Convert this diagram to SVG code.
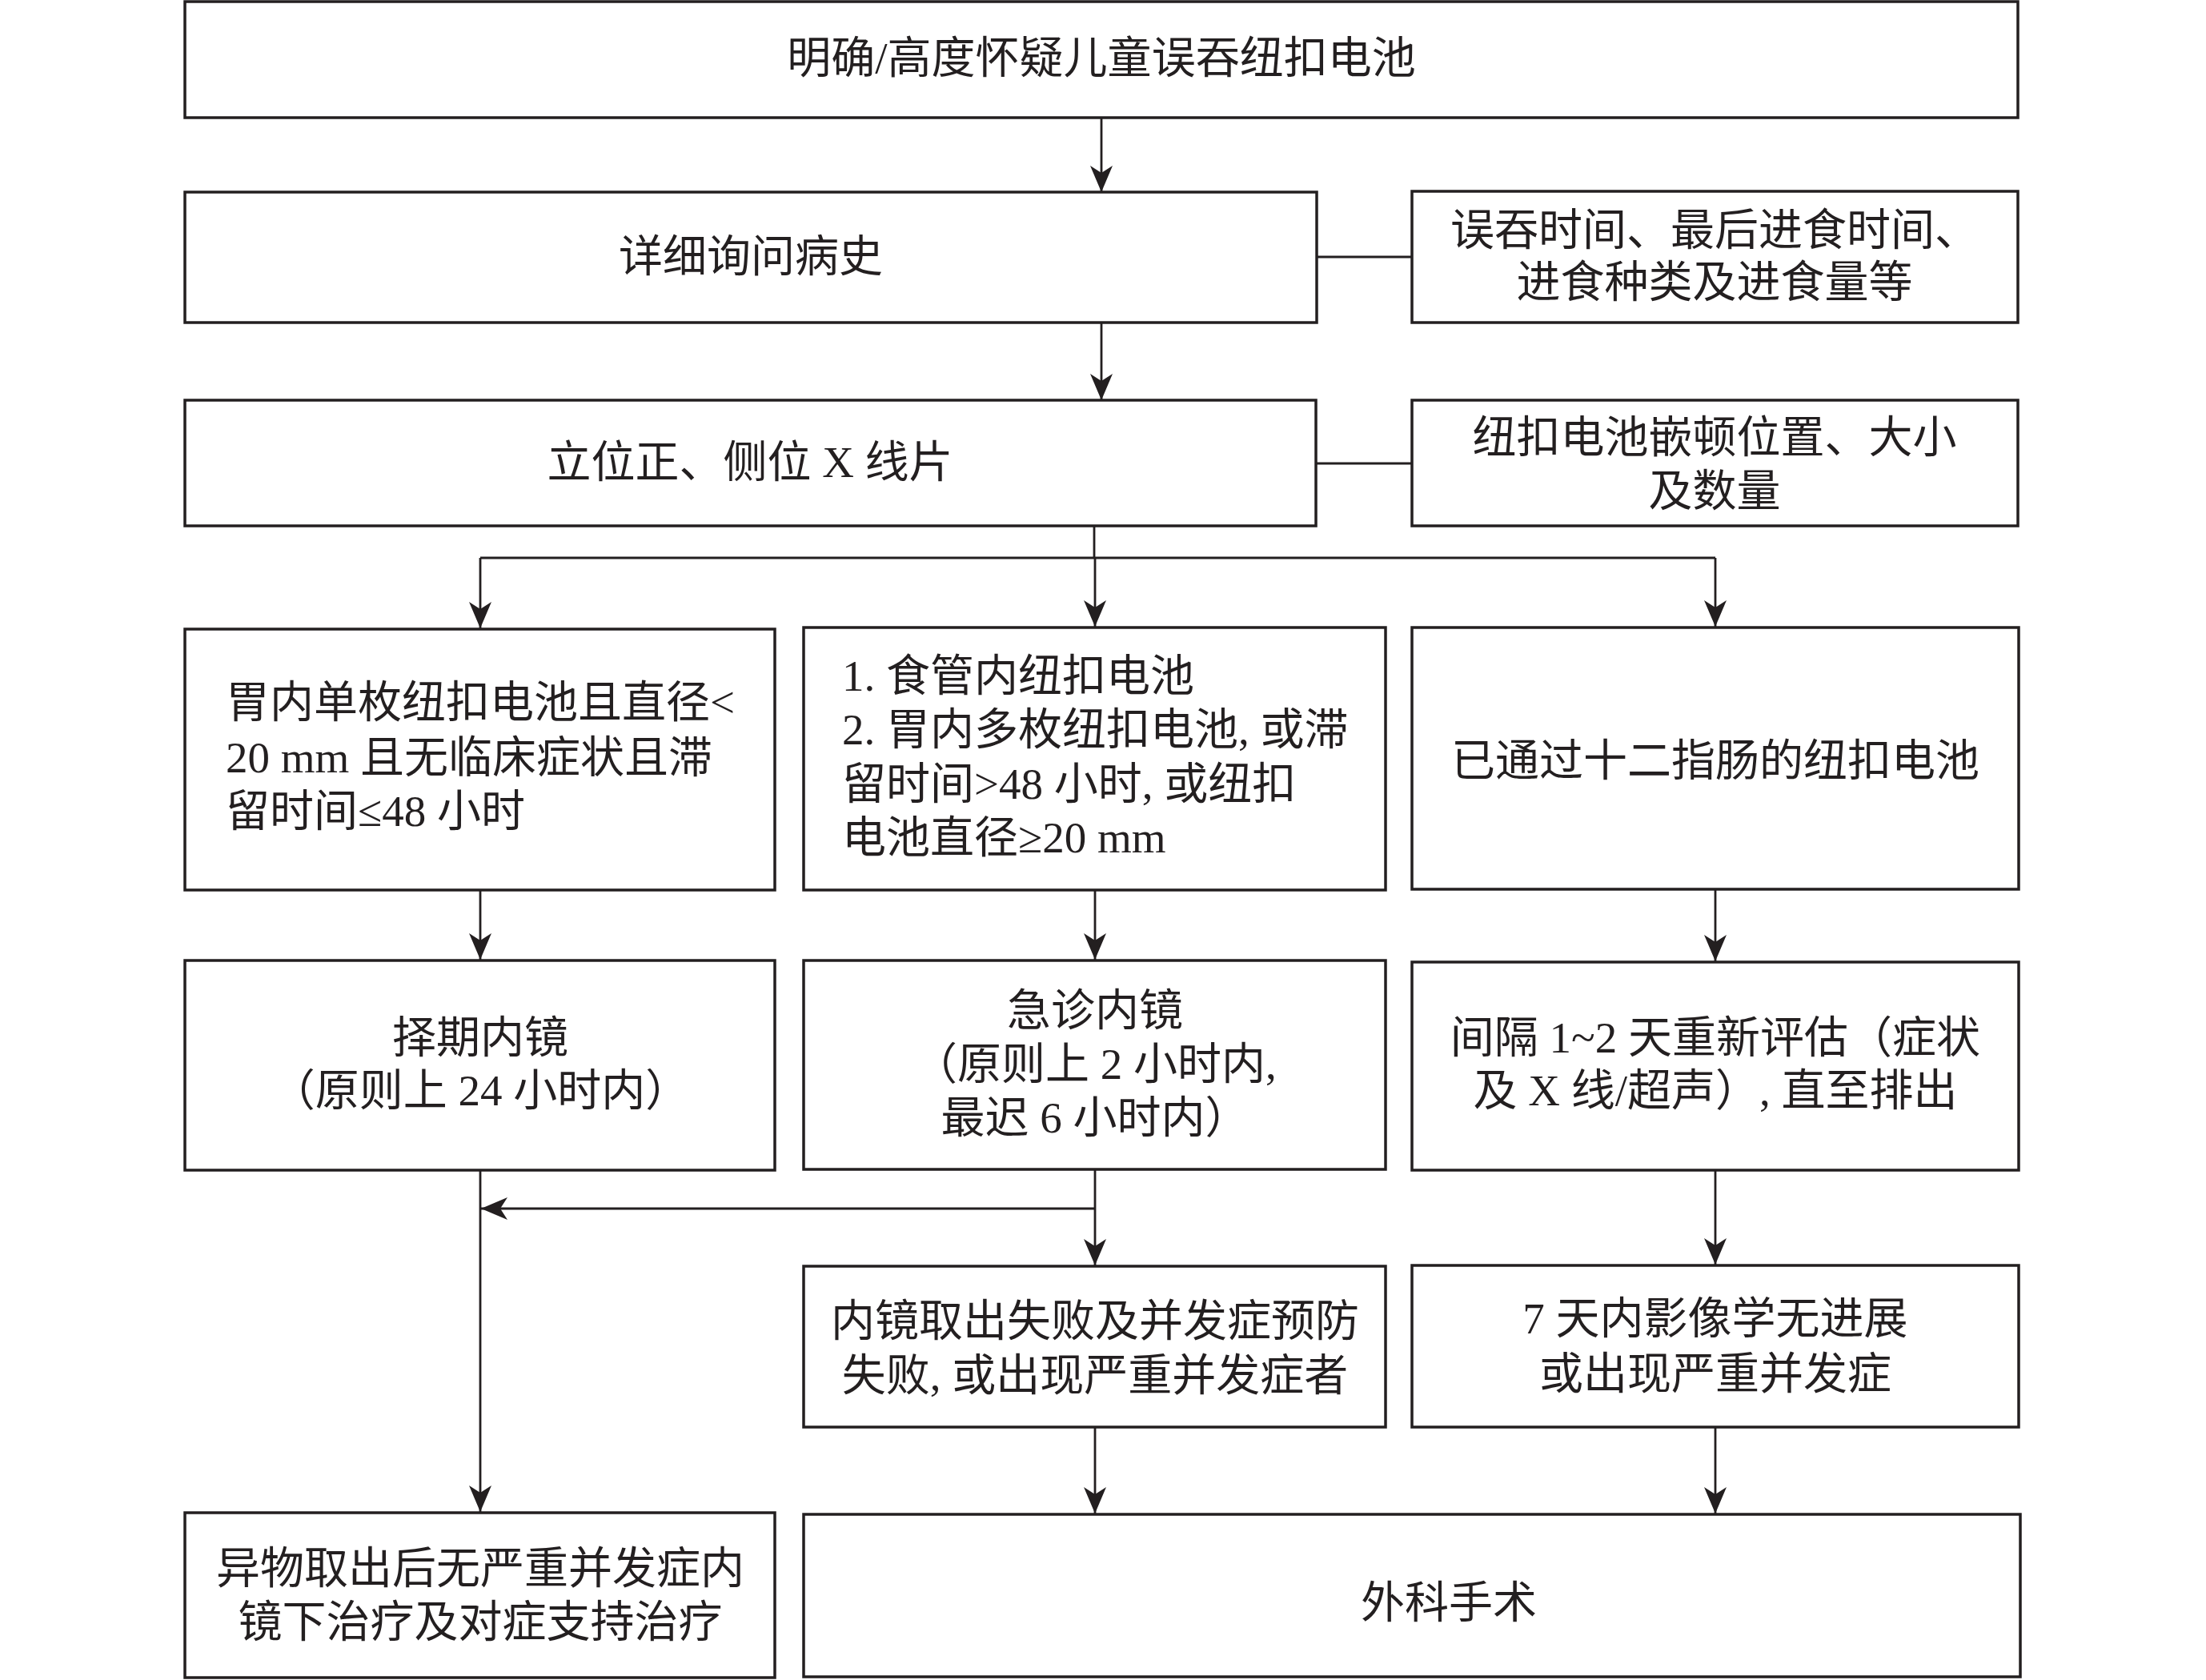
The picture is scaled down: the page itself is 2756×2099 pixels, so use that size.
<svg xmlns="http://www.w3.org/2000/svg" width="2756" height="2099" viewBox="0 0 2756 2099">
<style>
.box{fill:#fff;stroke:#231f20;stroke-width:3.5}
.t{font-family:"Liberation Serif","Noto Sans CJK SC",serif;font-size:55px;fill:#231f20}
.c{text-anchor:middle}
.ln{fill:none;stroke:#231f20;stroke-width:2.8}
.lh{fill:none;stroke:#231f20;stroke-width:3.2}
</style>
<defs>
<marker id="ah" viewBox="0 0 33 28" refX="33" refY="14" markerWidth="33" markerHeight="28" markerUnits="userSpaceOnUse" orient="auto">
<path d="M0,0 L33,14 L0,28 L9,14 z" fill="#231f20"/>
</marker>
</defs>
<rect width="2756" height="2099" fill="#fff"/>
<g id="connectors">
<line class="ln" x1="1376" y1="147" x2="1376" y2="240" marker-end="url(#ah)"/>
<line class="ln" x1="1376" y1="403" x2="1376" y2="500" marker-end="url(#ah)"/>
<line class="lh" x1="1645" y1="321" x2="1764" y2="321"/>
<line class="lh" x1="1644" y1="579" x2="1764" y2="579"/>
<line class="ln" x1="1367" y1="657" x2="1367" y2="697"/>
<line class="lh" x1="600" y1="697" x2="2143" y2="697"/>
<line class="ln" x1="600" y1="697" x2="600" y2="785" marker-end="url(#ah)"/>
<line class="ln" x1="1368" y1="697" x2="1368" y2="783" marker-end="url(#ah)"/>
<line class="ln" x1="2143" y1="697" x2="2143" y2="783" marker-end="url(#ah)"/>
<line class="ln" x1="600" y1="1112" x2="600" y2="1199" marker-end="url(#ah)"/>
<line class="ln" x1="1368" y1="1112" x2="1368" y2="1199" marker-end="url(#ah)"/>
<line class="ln" x1="2143" y1="1111" x2="2143" y2="1201" marker-end="url(#ah)"/>
<line class="ln" x1="600" y1="1462" x2="600" y2="1889" marker-end="url(#ah)"/>
<line class="ln" x1="1368" y1="1461" x2="1368" y2="1581" marker-end="url(#ah)"/>
<line class="lh" x1="1368" y1="1510" x2="601" y2="1510" marker-end="url(#ah)"/>
<line class="ln" x1="1368" y1="1783" x2="1368" y2="1891" marker-end="url(#ah)"/>
<line class="ln" x1="2143" y1="1462" x2="2143" y2="1580" marker-end="url(#ah)"/>
<line class="ln" x1="2143" y1="1783" x2="2143" y2="1891" marker-end="url(#ah)"/>
</g>
<g id="n-start">
<rect class="box" x="231" y="2" width="2290" height="145"/>
<text class="t c" x="1376" y="91">明确/高度怀疑儿童误吞纽扣电池</text>
</g>
<g id="n-history">
<rect class="box" x="231" y="240" width="1414" height="163"/>
<text class="t c" x="938" y="339">详细询问病史</text>
</g>
<g id="n-history-detail">
<rect class="box" x="1764" y="239" width="757" height="164"/>
<text class="t c" x="2142" y="306">误吞时间、最后进食时间、</text>
<text class="t c" x="2142" y="371">进食种类及进食量等</text>
</g>
<g id="n-xray">
<rect class="box" x="231" y="500" width="1413" height="157"/>
<text class="t c" x="937" y="596">立位正、侧位 X 线片</text>
</g>
<g id="n-xray-detail">
<rect class="box" x="1764" y="500" width="757" height="157"/>
<text class="t c" x="2142" y="565">纽扣电池嵌顿位置、大小</text>
<text class="t c" x="2142" y="632">及数量</text>
</g>
<g id="n-stomach-single">
<rect class="box" x="231" y="786" width="737" height="326"/>
<text class="t" x="282" y="896">胃内单枚纽扣电池且直径&lt;</text>
<text class="t" x="282" y="965">20 mm 且无临床症状且滞</text>
<text class="t" x="282" y="1032">留时间≤48 小时</text>
</g>
<g id="n-esophagus">
<rect class="box" x="1004" y="784" width="727" height="328"/>
<text class="t" x="1052" y="863">1. 食管内纽扣电池</text>
<text class="t" x="1052" y="930">2. 胃内多枚纽扣电池, 或滞</text>
<text class="t" x="1052" y="998">留时间&gt;48 小时, 或纽扣</text>
<text class="t" x="1052" y="1065">电池直径≥20 mm</text>
</g>
<g id="n-duodenum">
<rect class="box" x="1764" y="784" width="758" height="327"/>
<text class="t c" x="2143" y="969">已通过十二指肠的纽扣电池</text>
</g>
<g id="n-elective">
<rect class="box" x="231" y="1200" width="737" height="262"/>
<text class="t c" x="600" y="1315">择期内镜</text>
<text class="t c" x="600" y="1381">（原则上 24 小时内）</text>
</g>
<g id="n-emergency">
<rect class="box" x="1004" y="1200" width="727" height="261"/>
<text class="t c" x="1368" y="1281">急诊内镜</text>
<text class="t c" x="1368" y="1348">（原则上 2 小时内,</text>
<text class="t c" x="1368" y="1415">最迟 6 小时内）</text>
</g>
<g id="n-reassess">
<rect class="box" x="1764" y="1202" width="758" height="260"/>
<text class="t c" x="2143" y="1315">间隔 1~2 天重新评估（症状</text>
<text class="t c" x="2143" y="1381">及 X 线/超声）, 直至排出</text>
</g>
<g id="n-failure">
<rect class="box" x="1004" y="1582" width="727" height="201"/>
<text class="t c" x="1368" y="1669">内镜取出失败及并发症预防</text>
<text class="t c" x="1368" y="1737">失败, 或出现严重并发症者</text>
</g>
<g id="n-no-progress">
<rect class="box" x="1764" y="1581" width="758" height="202"/>
<text class="t c" x="2143" y="1666">7 天内影像学无进展</text>
<text class="t c" x="2143" y="1735">或出现严重并发症</text>
</g>
<g id="n-after-removal">
<rect class="box" x="231" y="1890" width="737" height="206"/>
<text class="t c" x="600" y="1978">异物取出后无严重并发症内</text>
<text class="t c" x="600" y="2045">镜下治疗及对症支持治疗</text>
</g>
<g id="n-surgery">
<rect class="box" x="1004" y="1892" width="1520" height="203"/>
<text class="t c" x="1810" y="2021">外科手术</text>
</g>
</svg>
